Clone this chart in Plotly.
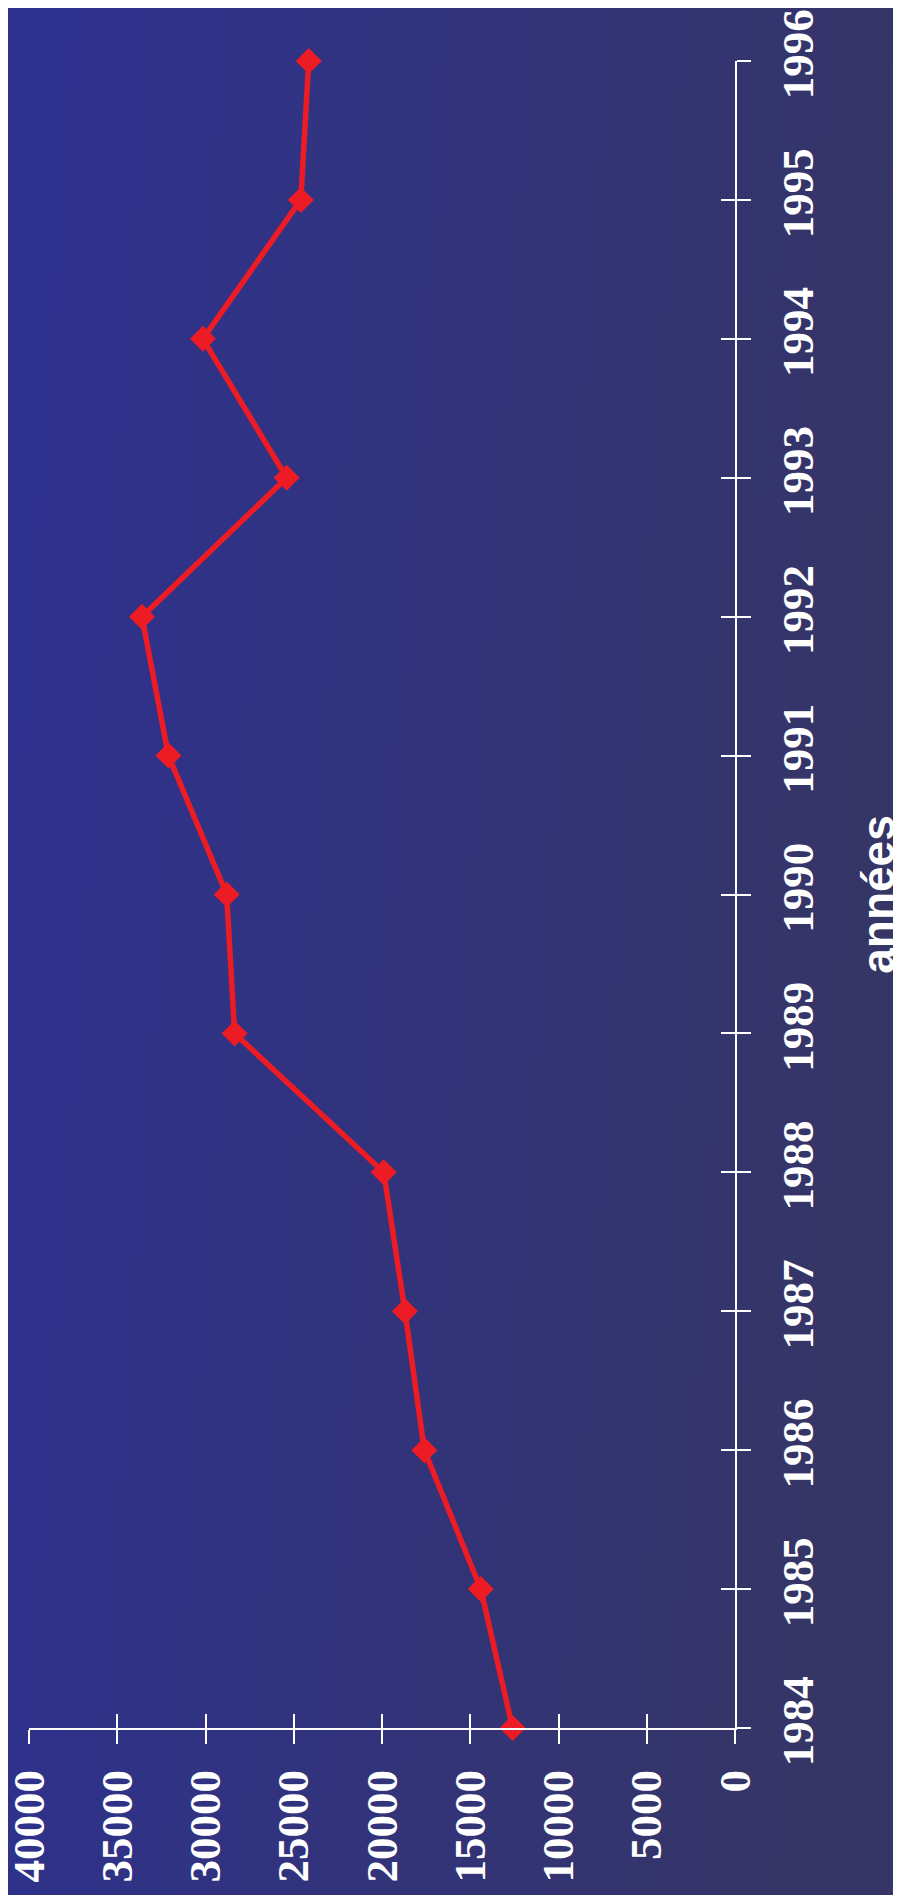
import base64
import plotly.graph_objects as go

years = [1984, 1985, 1986, 1987, 1988, 1989, 1990, 1991, 1992, 1993, 1994, 1995, 1996]
values = [12600, 14400, 17600, 18700, 19900, 28350, 28800, 32100, 33600, 25400, 30150, 24600, 24150]
value_ticks = [0, 5000, 10000, 15000, 20000, 25000, 30000, 35000, 40000]
year_ticks = years
axis_title = "années"

# page is drawn with an 8px body margin, compensate in the margins
OFF = 8
W, H = 901, 1895
ML, MT = 29 - OFF, 61 - OFF
PW, PH = 706, 1667
MR, MB = W - ML - PW, H - MT - PH

svg = (
    '<svg xmlns="http://www.w3.org/2000/svg" width="901" height="1895" '
    'preserveAspectRatio="none" viewBox="0 0 901 1895">'
    '<defs><linearGradient id="g" x1="0" y1="0" x2="1" y2="0.15">'
    '<stop offset="0" stop-color="#2e3191"/><stop offset="1" stop-color="#353566"/>'
    '</linearGradient></defs><rect width="901" height="1895" fill="url(#g)"/></svg>'
)
src = "data:image/svg+xml;base64," + base64.b64encode(svg.encode()).decode()

tickfont = dict(family="Liberation Serif", size=45, color="white", weight="bold")

fig = go.Figure()
fig.add_trace(go.Scatter(
    x=values, y=years, mode="lines+markers",
    line=dict(color="#ed1c24", width=5.5),
    marker=dict(symbol="diamond", size=20, color="#ed1c24"),
    cliponaxis=False, showlegend=False, hoverinfo="skip",
))
# invisible trace for the duplicate axes (inward tick halves)
fig.add_trace(go.Scatter(
    x=[values[0]], y=[years[0]], xaxis="x2", yaxis="y2", mode="markers",
    marker=dict(opacity=0), showlegend=False, hoverinfo="skip",
))

fig.update_layout(
    width=W, height=H,
    margin=dict(l=ML, r=MR, t=MT, b=MB, pad=0),
    paper_bgcolor="white",
    plot_bgcolor="rgba(0,0,0,0)",
    images=[dict(
        source=src, xref="paper", yref="paper",
        x=-ML / PW, y=1 + MT / PH,
        sizex=W / PW, sizey=H / PH,
        xanchor="left", yanchor="top", sizing="stretch", layer="below",
    )],
    xaxis=dict(
        range=[40000, 0], tickvals=value_ticks, ticktext=[str(v) for v in value_ticks],
        tickangle=-90, tickfont=tickfont, ticks="outside", ticklen=14, tickwidth=2,
        tickcolor="white", showline=True, linecolor="white", linewidth=2,
        showgrid=False, zeroline=False, automargin=False, anchor="y",
        ticklabelstandoff=8, ticklabeloverflow="allow",
    ),
    yaxis=dict(
        range=[1984, 1996], tickvals=year_ticks, ticktext=[str(y) for y in year_ticks],
        side="right", tickangle=-90, tickfont=tickfont, ticks="outside", ticklen=14,
        tickwidth=2, tickcolor="white", showline=True, linecolor="white", linewidth=2,
        showgrid=False, zeroline=False, automargin=False, anchor="x",
        ticklabelstandoff=8, ticklabeloverflow="allow",
        title=dict(text=axis_title,
                   font=dict(family="Liberation Sans", size=46, color="white", weight="bold"),
                   standoff=40),
    ),
    xaxis2=dict(
        range=[40000, 0], tickvals=value_ticks, showticklabels=False, ticks="inside",
        ticklen=14, tickwidth=2, tickcolor="white", showline=False, showgrid=False,
        zeroline=False, overlaying="x", anchor="y2", side="bottom", automargin=False,
    ),
    yaxis2=dict(
        range=[1984, 1996], tickvals=year_ticks, showticklabels=False, ticks="inside",
        ticklen=14, tickwidth=2, tickcolor="white", showline=False, showgrid=False,
        zeroline=False, overlaying="y", anchor="x2", side="right", automargin=False,
    ),
)

fig.write_html("out.html")
